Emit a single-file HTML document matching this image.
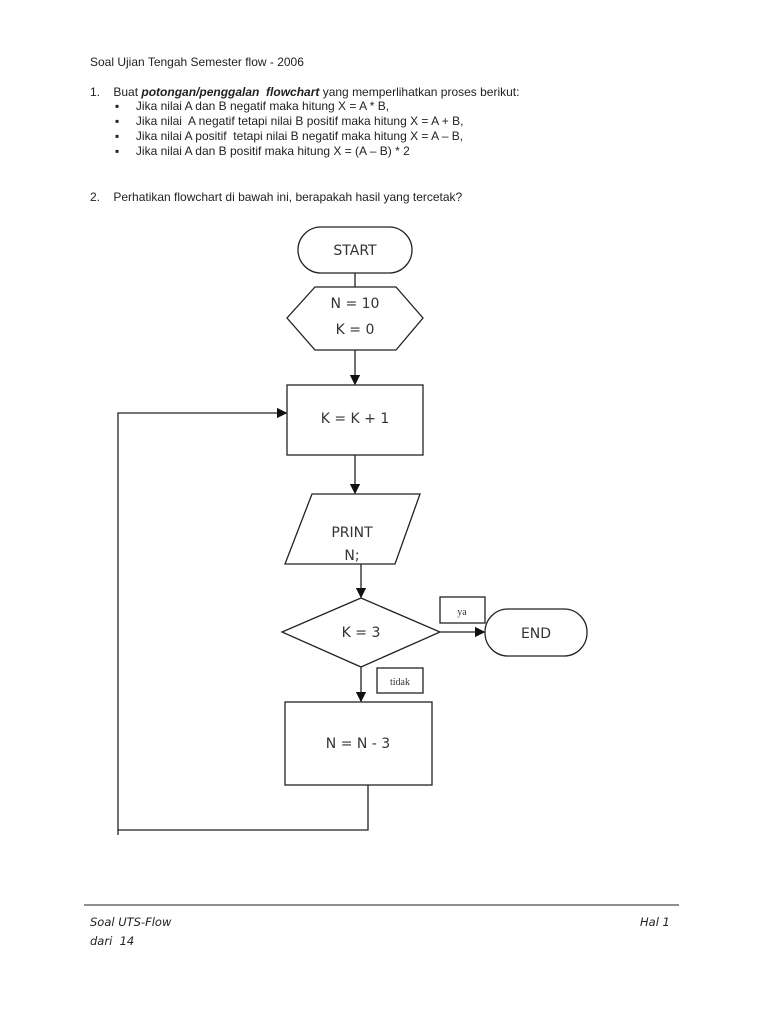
<!DOCTYPE html>
<html><head><meta charset="utf-8"><style>
body{margin:0;background:#fff;}
.p{position:relative;width:768px;height:1024px;overflow:hidden;font-family:"Liberation Sans",sans-serif;color:#222;}
.t{position:absolute;font-size:12px;white-space:nowrap;}
.f{position:absolute;font-size:11.5px;font-style:italic;font-family:"DejaVu Sans",sans-serif;}
</style></head><body><div class="p">
<div class="t" style="left:90px;top:55px">Soal Ujian Tengah Semester flow - 2006</div>
<div class="t" style="left:90px;top:85px">1.&nbsp;&nbsp;&nbsp; Buat <b><i>potongan/penggalan&nbsp; flowchart</i></b> yang memperlihatkan proses berikut:</div>
<div class="t" style="left:115px;top:99px">▪&nbsp;&nbsp;&nbsp;&nbsp; Jika nilai A dan B negatif maka hitung X = A * B,</div>
<div class="t" style="left:115px;top:114px">▪&nbsp;&nbsp;&nbsp;&nbsp; Jika nilai&nbsp; A negatif tetapi nilai B positif maka hitung X = A + B,</div>
<div class="t" style="left:115px;top:129px">▪&nbsp;&nbsp;&nbsp;&nbsp; Jika nilai A positif&nbsp; tetapi nilai B negatif maka hitung X = A – B,</div>
<div class="t" style="left:115px;top:144px">▪&nbsp;&nbsp;&nbsp;&nbsp; Jika nilai A dan B positif maka hitung X = (A – B) * 2</div>
<div class="t" style="left:90px;top:190px">2.&nbsp;&nbsp;&nbsp; Perhatikan flowchart di bawah ini, berapakah hasil yang tercetak?</div>
<svg width="768" height="1024" style="position:absolute;left:0;top:0" font-family="DejaVu Sans, sans-serif" font-size="14" fill="none">
<defs><marker id="a" markerWidth="8" markerHeight="8" refX="7" refY="4" orient="auto"><path d="M0,0L8,4L0,8z" fill="#111"/></marker></defs>
<g stroke="#222" stroke-width="1.3">
<rect x="298" y="227" width="114" height="46" rx="23"/>
<line x1="355" y1="273" x2="355" y2="287"/>
<polygon points="315,287 396,287 423,318 396,350 315,350 287,318"/>
<line x1="355" y1="350" x2="355" y2="384" marker-end="url(#a)"/>
<rect x="287" y="385" width="136" height="70"/>
<line x1="355" y1="455" x2="355" y2="493" marker-end="url(#a)"/>
<polygon points="312,494 420,494 395,564 285,564"/>
<line x1="361" y1="564" x2="361" y2="597" marker-end="url(#a)"/>
<polygon points="361,598 440,632 361,667 282,632"/>
<line x1="440" y1="632" x2="484" y2="632" marker-end="url(#a)"/>
<rect x="440" y="597" width="45" height="26"/>
<rect x="485" y="609" width="102" height="47" rx="23"/>
<rect x="377" y="668" width="46" height="25"/>
<line x1="361" y1="667" x2="361" y2="701" marker-end="url(#a)"/>
<rect x="285" y="702" width="147" height="83"/>
<polyline points="368,785 368,830 118,830 118,413 286,413" marker-end="url(#a)"/>
<line x1="118" y1="830" x2="118" y2="835"/>
<line x1="84" y1="905" x2="679" y2="905" stroke-width="1"/>
</g>
<g fill="#333" text-anchor="middle">
<text x="355" y="255">START</text>
<text x="355" y="308">N = 10</text>
<text x="355" y="334">K = 0</text>
<text x="355" y="423">K = K + 1</text>
<text x="352" y="537">PRINT</text>
<text x="352" y="560">N;</text>
<text x="361" y="637">K = 3</text>
<text x="536" y="638">END</text>
<text x="358" y="748">N = N - 3</text>
<text x="462" y="615" font-size="10" font-family="Liberation Serif, serif">ya</text>
<text x="400" y="685" font-size="10" font-family="Liberation Serif, serif">tidak</text>
</g>
</svg>
<div class="f" style="left:90px;top:915px">Soal UTS-Flow</div>
<div class="f" style="left:90px;top:934px">dari&nbsp; 14</div>
<div class="f" style="left:640px;top:915px">Hal 1</div>
</div></body></html>
